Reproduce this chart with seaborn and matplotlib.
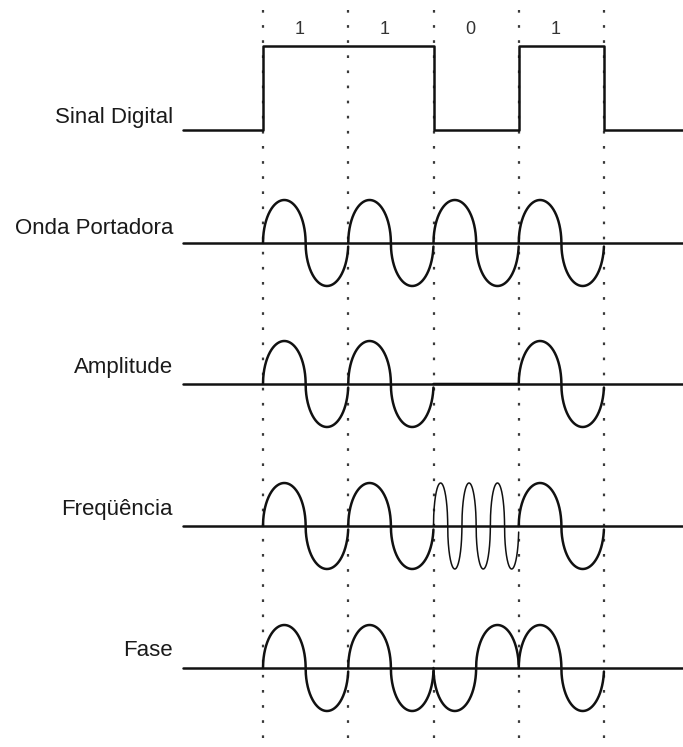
import numpy as np
import pandas as pd
import matplotlib
matplotlib.use("Agg")
import matplotlib.pyplot as plt
import seaborn as sns

# bits transmitted and row labels
bits = [1, 1, 0, 1]
bit_labels = ["1", "1", "0", "1"]
row_labels = ["Sinal Digital", "Onda Portadora", "Amplitude", "Freqüência", "Fase"]
# cycles per bit for FSK (bit 1 -> 1 cycle, bit 0 -> 3 cycles)
fsk_cycles = {1: 1, 0: 3}

# layout in pixel units (y grows downward)
W, H = 683, 747
x0_px, bit_px = 263, 85.25
start_px = 183
baselines = [130, 243, 384, 526, 668]
amp = 43
digital_high = 46

sns.set_theme(style="white")
plt.rcParams["font.family"] = ["Liberation Sans", "DejaVu Sans"]

fig = plt.figure(figsize=(W / 100, H / 100), dpi=100)
ax = fig.add_axes([0, 0, 1, 1])
ax.set_xlim(-x0_px / bit_px, (W - x0_px) / bit_px)
ax.set_ylim(H, 0)
ax.axis("off")

t_start = (start_px - x0_px) / bit_px
t_end = (W - x0_px) / bit_px
n = len(bits)

# dotted bit boundaries
for k in range(n + 1):
    ax.plot([k, k], [10, H], color="#3a3a3a", lw=1.6,
            linestyle=(0, (1.2, 5.6)), zorder=1)

# bit values on top
for k, lab in enumerate(bit_labels):
    ax.text(k + 0.43, 29, lab, ha="center", va="center", fontsize=13, color="#333333")

# digital signal
levels = [baselines[0]] + [digital_high if b else baselines[0] for b in bits] + [baselines[0]]
edges = [t_start] + list(range(n + 1)) + [t_end]
dig = pd.DataFrame({"t": edges, "y": levels + [levels[-1]]})
ax.plot(dig["t"], dig["y"], drawstyle="steps-post", color="#111111", lw=1.8)


# rounded (elliptical) half-waves, like the drawing
def osc(cycles, t):
    ph = (t * cycles * 2) % 1.0
    sgn = np.where(np.floor(t * cycles * 2) % 2 == 0, 1.0, -1.0)
    return sgn * 2 * np.sqrt(np.clip(ph * (1 - ph), 0, None))


def wave(kind, b, t):
    if kind == "carrier":
        return osc(1, t)
    if kind == "ask":
        return b * osc(1, t)
    if kind == "fsk":
        return osc(fsk_cycles[b], t)
    return osc(1, t) * (1 if b else -1)


kinds = ["carrier", "ask", "fsk", "psk"]
for row, kind in enumerate(kinds, start=1):
    base = baselines[row]
    ax.plot([t_start, t_end], [base, base], color="#111111", lw=1.8, zorder=2)
    for k, b in enumerate(bits):
        t = np.linspace(0, 1, 1201)[:-1]
        seg = pd.DataFrame({"t": t + k, "y": base - amp * wave(kind, b, t)})
        thin = kind == "fsk" and b == 0
        sns.lineplot(data=seg, x="t", y="y", ax=ax, color="#111111",
                     lw=1.1 if thin else 1.8, sort=False, estimator=None, zorder=3)

# row labels
offsets = [13, 15, 16, 16, 18]
for lab, base, off in zip(row_labels, baselines, offsets):
    ax.text((173 - x0_px) / bit_px, base - off, lab, ha="right", va="center",
            fontsize=16, color="#1a1a1a")

ax.set_xlabel("")
ax.set_ylabel("")
fig.savefig("out.png", dpi=100)
